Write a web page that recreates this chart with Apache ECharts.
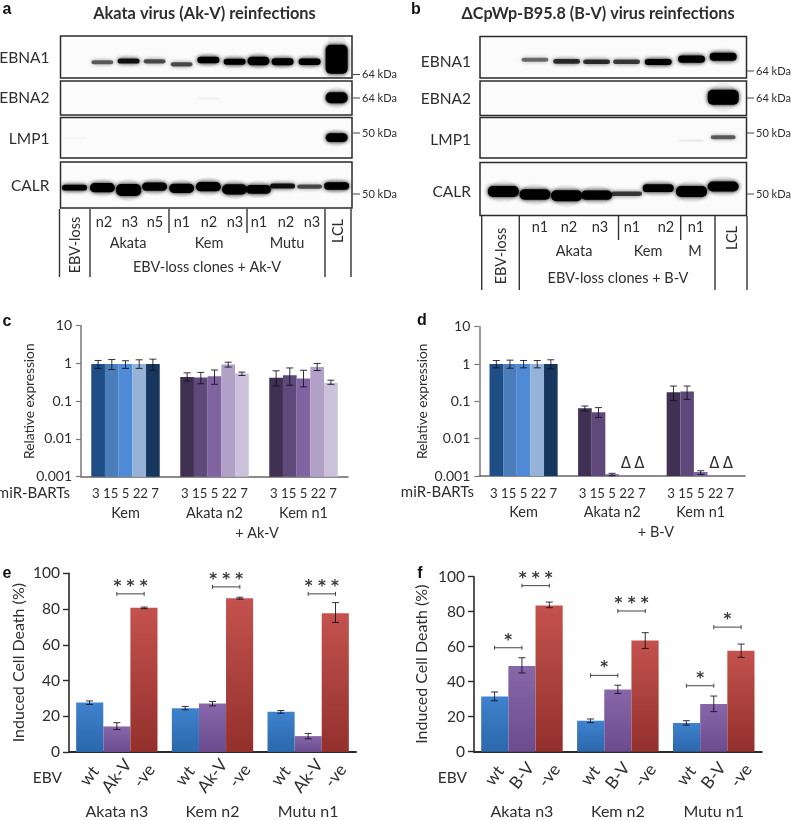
<!DOCTYPE html>
<html><head><meta charset="utf-8">
<script src="https://cdn.jsdelivr.net/npm/echarts@6/dist/echarts.min.js"></script>
<style>html,body{margin:0;padding:0;background:#fff}#c{width:791px;height:820px;filter:blur(0.4px)}</style>
</head><body><div id="c"></div>
<script>
// ---------- blot data: band strength per lane, and band position on the scan ----------
const aLanes = [0.53,1.58,2.57,3.55,4.57,5.58,6.57,7.47,8.38,9.4,10.42];
const aEbna1 = [0,0.45,0.7,0.5,0.5,1.0,0.9,1.4,1.1,1.0,6];
const aEbna1Pos = [185,187,183,184,193,180,185,183,185,185,178];
const aEbna2 = [0,0,0,0,0,0.03,0,0,0,0,2];
const aEbna2Pos = [293,293,293,293,293,295,293,293,293,293,293];
const aLmp1 = [0.02,0,0,0,0,0,0,0,0,0,1.5];
const aLmp1Pos = [415,413,413,413,413,413,413,413,413,413,413];
const aCalr = [0.8,1.6,2.2,1.4,1.6,1.6,1.8,1.5,0.7,0.5,1.2];
const aCalrPos = [563,563,570,560,565,560,568,568,558,560,558];
const bLanes = [0.7,1.65,2.6,3.5,4.4,5.35,6.35,7.3];
const bEbna1 = [0,0.4,0.6,0.6,0.55,0.9,1.2,1.3];
const bEbna1Pos = [180,180,185,186,186,187,178,171];
const bEbna2 = [0,0,0,0,0,0,0,2.9];
const bEbna2Pos = [292,292,292,292,292,292,292,292];
const bLmp1 = [0,0,0,0,0,0,0.05,0.45];
const bLmp1Pos = [412,412,412,412,412,412,422,412];
const bCalr = [2,1.9,2,1.6,0.55,1.3,2,1.8];
const bCalrPos = [575,584,588,586,582,565,575,560];

const aLaneLabels = ['n2','n3','n5','n1','n2','n3','n1','n2','n3'];
const aGroupLabels = ['Akata','Kem','Mutu'];
const bLaneLabels = ['n1','n2','n3','n1','n2','n1'];
const bGroupLabels = ['Akata','Kem','M'];
const blotNames = ['EBNA1','EBNA2','LMP1','CALR'];

// ---------- miR-BART expression ----------
const bartLabels = ['3','15','5','22','7'];
const exprGroups = ['Kem','Akata n2','Kem n1'];
const cKem = [0.97,0.97,0.97,0.97,0.97];
const cKemHi = [1.2,1.27,1.18,1.25,1.3];
const cKemLo = [0.74,0.69,0.74,0.74,0.66];
const cAkata = [0.44,0.425,0.46,0.94,0.54];
const cAkataHi = [0.565,0.58,0.67,1.08,0.59];
const cAkataLo = [0.34,0.29,0.28,0.80,0.48];
const cKemN1 = [0.416,0.49,0.40,0.80,0.31];
const cKemN1Hi = [0.64,0.76,0.66,1.0,0.36];
const cKemN1Lo = [0.255,0.265,0.24,0.65,0.28];
const dKem = [1,1,1,1,1];
const dKemHi = [1.24,1.27,1.24,1.24,1.3];
const dKemLo = [0.79,0.77,0.79,0.79,0.74];
const dAkata = [0.065,0.051,0.00112,null,null];
const dAkataHi = [0.075,0.068,0.00118,null,null];
const dAkataLo = [0.055,0.037,0.00102,null,null];
const dKemN1 = [0.174,0.185,0.00128,null,null];
const dKemN1Hi = [0.257,0.257,0.00138,null,null];
const dKemN1Lo = [0.104,0.113,0.00110,null,null];

// ---------- induced cell death ----------
const deathGroups = ['Akata n3','Kem n2','Mutu n1'];
const eConds = ['wt','Ak-V','-ve'];
const fConds = ['wt','B-V','-ve'];
const eWt = [27.7,24.5,22.5], eWtHi=[28.6,25.5,23.2], eWtLo=[26.6,23.6,21.7];
const eAk = [14.3,27.1,8.9], eAkHi=[16.4,28.3,10.4], eAkLo=[12.6,25.8,7.4];
const eNeg = [80.7,86,77.7], eNegHi=[81.1,86.6,83.6], eNegLo=[80.2,85.5,72.5];
const fWt = [31.6,17.7,16.4], fWtHi=[34.1,18.7,17.7], fWtLo=[29.1,16.6,15.2];
const fB = [49,35.6,27.2], fBHi=[53.7,38,31.8], fBLo=[45,33.3,22.9];
const fNeg = [83.6,63.6,57.7], fNegHi=[85.5,68,61.5], fNegLo=[82.3,59,53.9];
// brackets: group, first condition, level, stars
const eSig = [[0,1,88.5,'***'],[1,1,92.4,'***'],[2,1,88.5,'***']];
const fSig = [[0,0,59.4,'*'],[0,1,94.9,'***'],[1,0,43.6,'*'],[1,1,80.4,'***'],[2,0,37.7,'*'],[2,1,71.2,'*']];

// ---------- styles ----------
const FONT = 'Lato, "Open Sans", sans-serif';
const INK = '#2e2e2e';
const blues = ['#1f4e86','#4a7ebb','#4f8ad6','#95b3d7','#17375e'];
const purples = ['#403152','#5f497a','#8064a2','#b2a1c7','#ccc1da'];

const grids=[], xAxes=[], yAxes=[], series=[], graphics=[];

function txt(x,y,text,size,o){o=o||{};
  graphics.push({type:'text',x,y,rotation:o.rot||0,z:20,style:{text,fill:o.fill||INK,
    font:(o.weight||'normal')+' '+size+'px '+(o.family||FONT),textAlign:o.align||'center',textVerticalAlign:'middle'}});
}
function vline(x,y1,y2,w){graphics.push({type:'line',z:20,shape:{x1:x,y1,x2:x,y2},style:{stroke:'#333',lineWidth:w||1.4}});}
function hline(x1,x2,y){graphics.push({type:'line',z:20,shape:{x1,y1:y,x2,y2:y},style:{stroke:'#444',lineWidth:1}});}

// ---------- blots ----------
function blot(box,lanesMax,yRange,lanes,vals,pos,bandW){
  const g=grids.length;
  grids.push({left:box[0],top:box[1],width:box[2]-box[0],height:box[3]-box[1],show:true,borderColor:'#2b2b2b',borderWidth:1.5,backgroundColor:'#fbfbfb'});
  xAxes.push({gridIndex:g,type:'value',min:0,max:lanesMax,show:false});
  yAxes.push({gridIndex:g,type:'value',min:yRange[0],max:yRange[1],inverse:true,show:false});
  series.push({type:'custom',xAxisIndex:xAxes.length-1,yAxisIndex:yAxes.length-1,clip:true,silent:true,
    data:lanes.map((l,i)=>[l,pos[i],vals[i]]),
    renderItem(p,api){
      const c=api.coord([api.value(0),api.value(1)]),v=api.value(2);
      if(!v) return {type:'group',children:[]};
      const h=3+4.5*v,a=Math.min(1,v*1.25);
      const col='rgba(0,0,0,'+a+')';
      return {type:'group',children:[
        {type:'rect',shape:{x:c[0]-bandW/2+3,y:c[1]-h*0.9,width:bandW-6,height:h*1.8,r:h*0.9},style:{fill:'rgba(0,0,0,'+(0.05*Math.min(v,1))+')',shadowBlur:14,shadowColor:'rgba(0,0,0,'+(0.22*Math.min(v,1))+')'}},
        {type:'rect',shape:{x:c[0]-bandW/2+1,y:c[1]-h/2+0.5,width:bandW-2,height:h-1,r:Math.min(h/2,5)},style:{fill:col,shadowBlur:4,shadowColor:col}}
      ]};
    }});
}
const aX=[60.5,352], bX=[480,746.5];
blot([aX[0],36,aX[1],78],11,[108,234],aLanes,aEbna1,aEbna1Pos,24);
blot([aX[0],81,aX[1],115],11,[243,345],aLanes,aEbna2,aEbna2Pos,24);
blot([aX[0],117.5,aX[1],158],11,[352,475],aLanes,aLmp1,aLmp1Pos,24);
blot([aX[0],162,aX[1],208],11,[486,624],aLanes,aCalr,aCalrPos,27);
blot([bX[0],36.5,bX[1],78],8,[110,235],bLanes,bEbna1,bEbna1Pos,29);
blot([bX[0],81,bX[1],115.5],8,[243,347],bLanes,bEbna2,bEbna2Pos,33);
blot([bX[0],117.5,bX[1],158],8,[352,475],bLanes,bLmp1,bLmp1Pos,27);
blot([bX[0],162.5,bX[1],215.5],8,[488,647],bLanes,bCalr,bCalrPos,33);

// ---------- expression panels ----------
function exprPanel(box,groups,nameX){
  const g=grids.length;
  grids.push({left:box[0],top:box[1],width:box[2]-box[0],height:box[3]-box[1]});
  const slots=new Array(39).fill('');
  const ix=xAxes.length;
  xAxes.push({gridIndex:g,type:'category',data:slots,position:'bottom',axisLine:{show:false},axisTick:{show:false},axisLabel:{show:false}});
  xAxes.push({gridIndex:g,type:'category',data:exprGroups,position:'bottom',
    axisLine:{lineStyle:{color:'#666',width:1.5}},axisTick:{length:66,lineStyle:{color:'#666',width:1.5}},
    axisLabel:{margin:29,fontFamily:FONT,fontSize:14.5,color:INK}});
  xAxes.push({gridIndex:g,type:'category',data:exprGroups.map(()=>bartLabels.join(' ')),position:'bottom',
    axisLine:{show:false},axisTick:{show:false},
    axisLabel:{interval:0,margin:11,fontFamily:FONT,fontSize:13.2,color:INK}});
  const iy=yAxes.length;
  yAxes.push({gridIndex:g,type:'log',logBase:10,min:0.001,max:10,splitLine:{show:false},
    name:'Relative expression',nameLocation:'middle',nameGap:nameX,nameMoveOverlap:false,nameTextStyle:{fontFamily:FONT,fontSize:13.7,color:INK},
    axisLine:{show:true,lineStyle:{color:'#777',width:1.5}},axisTick:{show:true,length:5,lineStyle:{color:'#777',width:1.2}},minorTick:{show:false},
    axisLabel:{margin:9,fontFamily:FONT,fontSize:14,color:INK,showMinLabel:true,showMaxLabel:true,formatter:v=>String(+(+v).toPrecision(1))}});
  const rows=[];
  groups.forEach((gr,k)=>{const s=[2,15,28][k];gr.v.forEach((v,i)=>{
    if(v!=null) rows.push([s+2*i,v,gr.lo[i],gr.hi[i],gr.pal[i]]);});});
  series.push({type:'custom',xAxisIndex:ix,yAxisIndex:iy,clip:false,silent:true,data:rows,encode:{x:0,y:1},
    renderItem(p,api){
      const x=api.value(0),w=api.size([1,0])[0]*2;
      const t=api.coord([x,api.value(1)]),b=api.coord([x,0.001]);
      return {type:'rect',shape:{x:t[0]-w/2,y:t[1],width:w,height:b[1]-t[1]},style:{fill:rows[p.dataIndex][4]}};
    }});
  errorSeries(ix,iy,rows.map(r=>[r[0],r[2],r[3]]));
  return ix;
}
function errorSeries(ix,iy,rows){
  series.push({type:'custom',xAxisIndex:ix,yAxisIndex:iy,clip:false,silent:true,z:5,data:rows,encode:{x:0,y:1},
    renderItem(p,api){
      const x=api.value(0),l=api.coord([x,api.value(1)]),h=api.coord([x,api.value(2)]);
      const st={stroke:'rgba(15,15,25,0.85)',lineWidth:1,fill:null};
      return {type:'group',children:[
        {type:'line',shape:{x1:l[0],y1:l[1],x2:h[0],y2:h[1]},style:st},
        {type:'line',shape:{x1:l[0]-3.5,y1:l[1],x2:l[0]+3.5,y2:l[1]},style:st},
        {type:'line',shape:{x1:h[0]-3.5,y1:h[1],x2:h[0]+3.5,y2:h[1]},style:st}]};
    }});
}
exprPanel([81,325.7,348,476.7],[
  {v:cKem,lo:cKemLo,hi:cKemHi,pal:blues},{v:cAkata,lo:cAkataLo,hi:cAkataHi,pal:purples},{v:cKemN1,lo:cKemN1Lo,hi:cKemN1Hi,pal:purples}],44);
const dSlotAxis=exprPanel([479.3,326.7,745,476],[
  {v:dKem,lo:dKemLo,hi:dKemHi,pal:blues},{v:dAkata,lo:dAkataLo,hi:dAkataHi,pal:purples},{v:dKemN1,lo:dKemN1Lo,hi:dKemN1Hi,pal:purples}],50);
// Δ markers for undetected miRNAs (slots of 22 and 7 in the two reinfected groups)
const deltaSlots=[21,23,34,36];
series.push({type:'custom',xAxisIndex:dSlotAxis,yAxisIndex:yAxes.length-1,clip:false,silent:true,data:deltaSlots.map(s=>[s,0.0021]),encode:{x:0,y:1},
  renderItem(p,api){const c=api.coord([api.value(0),api.value(1)]);
    return {type:'text',x:c[0],y:c[1],style:{text:'Δ',font:'15px "DejaVu Sans"',fill:INK,textAlign:'center',textVerticalAlign:'middle'}};}});

// ---------- cell death panels ----------
function grad(top,bot){return {type:'linear',x:0,y:0,x2:0,y2:1,colorStops:[{offset:0,color:top},{offset:1,color:bot}]};}
const barFills=[grad('#3f82ce','#2b67ab'),grad('#8767aa','#6a4c8e'),grad('#c4524e','#93302c')];
function deathPanel(box,conds,vals,los,his,sig,nameGap){
  const g=grids.length;
  grids.push({left:box[0],top:box[1],width:box[2]-box[0],height:box[3]-box[1]});
  const ig=xAxes.length;
  xAxes.push({gridIndex:g,type:'category',data:deathGroups,position:'bottom',
    axisLine:{lineStyle:{color:'#2a2a2a',width:2}},axisTick:{length:60,lineStyle:{color:'#2a2a2a',width:1.6}},
    axisLabel:{margin:52,fontFamily:FONT,fontSize:16,color:INK}});
  const slots=new Array(21).fill('');
  [1,8,15].forEach(s=>conds.forEach((c,i)=>{slots[s+2*i]=c;}));
  const is=xAxes.length;
  xAxes.push({gridIndex:g,type:'category',data:slots,position:'bottom',axisLine:{show:false},axisTick:{show:false},
    axisLabel:{interval:0,rotate:52,margin:24,align:'center',verticalAlign:'middle',fontFamily:FONT,fontSize:17,color:INK,hideOverlap:false}});
  const iy=yAxes.length;
  yAxes.push({gridIndex:g,type:'value',min:0,max:100,interval:20,splitLine:{show:false},
    name:'Induced Cell Death (%)',nameLocation:'middle',nameGap,nameMoveOverlap:false,nameTextStyle:{fontFamily:FONT,fontSize:16,color:INK},
    axisLine:{show:true,lineStyle:{color:'#2a2a2a',width:1.6}},axisTick:{show:true,length:6,lineStyle:{color:'#2a2a2a',width:1.4}},
    axisLabel:{margin:9,fontFamily:FONT,fontSize:15.5,color:INK}});
  conds.forEach((c,k)=>series.push({type:'bar',name:c,xAxisIndex:ig,yAxisIndex:iy,data:vals[k],silent:true,
    barWidth:(box[2]-box[0])/3*0.85/3,barGap:'0%',itemStyle:{color:barFills[k]}}));
  const rows=[];
  [0,1,2].forEach(gi=>conds.forEach((c,k)=>rows.push([[1,8,15][gi]+2*k,los[k][gi],his[k][gi]])));
  errorSeries(is,iy,rows);
  series.push({type:'custom',xAxisIndex:is,yAxisIndex:iy,clip:false,silent:true,z:6,
    data:sig.map(s=>[[1,8,15][s[0]]+2*s[1],s[2],s[3]]),encode:{x:0,y:1},
    renderItem(p,api){
      const x=api.value(0),y=api.value(1),a=api.coord([x,y]),b=api.coord([x+2,y]);
      const st={stroke:'#444',lineWidth:1,fill:null};
      const mark=sig[p.dataIndex][3];
      return {type:'group',children:[
        {type:'line',shape:{x1:a[0],y1:a[1],x2:b[0],y2:b[1]},style:st},
        {type:'line',shape:{x1:a[0],y1:a[1]-2,x2:a[0],y2:a[1]+2},style:st},
        {type:'line',shape:{x1:b[0],y1:b[1]-2,x2:b[0],y2:b[1]+2},style:st},
        {type:'text',x:(a[0]+b[0])/2,y:a[1]-7,style:{text:mark.split('').join(' '),font:'bold 15px "DejaVu Sans"',fill:'#3a3a3a',textAlign:'center',textVerticalAlign:'middle'}}]};
    }});
}
deathPanel([69,573.3,356,752.7],eConds,[eWt,eAk,eNeg],[eWtLo,eAkLo,eNegLo],[eWtHi,eAkHi,eNegHi],eSig,42);
deathPanel([474,576.7,761.7,751.7],fConds,[fWt,fB,fNeg],[fWtLo,fBLo,fNegLo],[fWtHi,fBHi,fNegHi],fSig,44);

// ---------- text and rules around the panels ----------
const PANEL='"Liberation Sans"';
[['a',7,10],['b',416,10],['c',7,322],['d',422,321],['e',7,574],['f',420,574]].forEach(p=>txt(p[1],p[2],p[0],16,{weight:'bold',family:PANEL,fill:'#111'}));
txt(204.5,14,'Akata virus (Ak-V) reinfections',16.4,{weight:'bold'});
txt(598,14,'ΔCpWp-B95.8 (B-V) virus reinfections',16.2,{weight:'bold'});
[58,98,139,186].forEach((y,i)=>txt(49.5,y,blotNames[i],15.5,{align:'right'}));
[62,99,140,192].forEach((y,i)=>txt(471,y,blotNames[i],15.5,{align:'right'}));
function kda(x,y,s){hline(x,x+7,y);txt(x+9,y,s,11,{align:'left'});}
kda(353,74.5,'64 kDa');kda(353,98,'64 kDa');kda(353,133,'50 kDa');kda(353,194,'50 kDa');
kda(747,71,'64 kDa');kda(747,98,'64 kDa');kda(747,133,'50 kDa');kda(747,194,'50 kDa');
// panel a lane table
[59.5,90,325,351].forEach(x=>vline(x,209,277));[169,247].forEach(x=>vline(x,209,233));
[104,130,155,182,209,235,259,286,312].forEach((x,i)=>txt(x,222,aLaneLabels[i],14.5));
[128,209,287].forEach((x,i)=>txt(x,243,aGroupLabels[i],14.5));
txt(207,267,'EBV-loss clones + Ak-V',14.5);
txt(75,245,'EBV-loss',14.5,{rot:Math.PI/2});txt(338,231,'LCL',14.5,{rot:Math.PI/2});
// panel b lane table
[481.7,519.3,715,747].forEach(x=>vline(x,216,290));[618.5,680.7].forEach(x=>vline(x,216,240));
[540,569,600,632,666,696].forEach((x,i)=>txt(x,227,bLaneLabels[i],14.5));
[574,648,695].forEach((x,i)=>txt(x,251,bGroupLabels[i],14.5));
txt(618,278,'EBV-loss clones + B-V',14.5);
txt(501,256,'EBV-loss',14.5,{rot:Math.PI/2});txt(732,238,'LCL',14.5,{rot:Math.PI/2});
// row captions
txt(70,493,'miR-BARTs',15,{align:'right'});txt(474,492,'miR-BARTs',15,{align:'right'});
txt(257,533,'+ Ak-V',14.5);txt(656,532,'+ B-V',14.5);
txt(62,778,'EBV',15.5,{align:'right'});txt(467,778,'EBV',15.5,{align:'right'});

const chart=echarts.init(document.getElementById('c'),null,{renderer:'canvas'});
chart.setOption({animation:false,backgroundColor:'#fff',tooltip:{show:false},legend:{show:false},
  grid:grids,xAxis:xAxes,yAxis:yAxes,series,graphic:{elements:graphics}});
</script></body></html>
